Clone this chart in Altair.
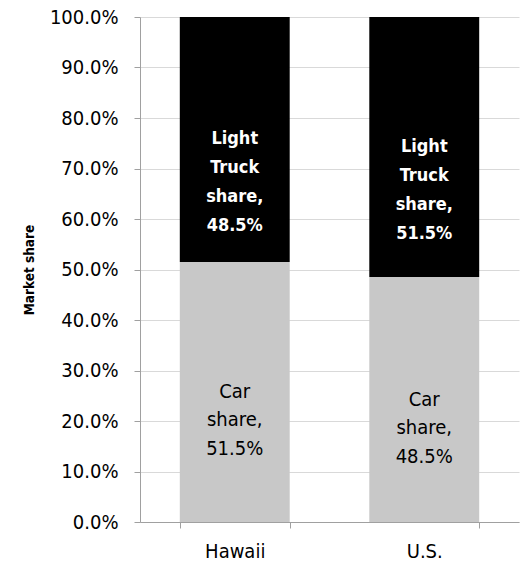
import altair as alt
import pandas as pd

regions = ["Hawaii", "U.S."]
car_share = [0.515, 0.485]
truck_share = [0.485, 0.515]
y_ticks = [i / 10 for i in range(11)]

rows = []
for r, c, t in zip(regions, car_share, truck_share):
    rows.append({"region": r, "kind": "Car", "share": c, "ord": 0,
                 "label": f"Car\nshare,\n{c*100:.1f}%"})
    rows.append({"region": r, "kind": "Light Truck", "share": t, "ord": 1,
                 "label": f"Light\nTruck\nshare,\n{t*100:.1f}%"})
df = pd.DataFrame(rows)

FONT = "DejaVu Sans Condensed, sans-serif"

base = alt.Chart(df).transform_stack(
    stack="share", groupby=["region"], as_=["y0", "y1"],
    sort=[alt.SortField("ord", order="ascending")]
).transform_calculate(mid="(datum.y0 + datum.y1) / 2")

xenc = alt.X("region:N", sort=regions,
             scale=alt.Scale(paddingInner=0.42, paddingOuter=0.21),
             axis=alt.Axis(title=None, tickBand="extent", labelAngle=0,
                           labelFontSize=20, labelFont=FONT, labelColor="#000",
                           tickSize=6, tickColor="#a0a0a0", domainColor="#a0a0a0",
                           labelPadding=13, grid=False))

bars = base.mark_bar().encode(
    x=xenc,
    y=alt.Y("y0:Q", scale=alt.Scale(domain=[0, 1]),
            axis=alt.Axis(title="Market share", format=".1%", values=y_ticks,
                          labelFontSize=20, labelFont=FONT, labelColor="#000",
                          titleFont=FONT, titleFontSize=13.5, titleFontWeight="bold",
                          titleColor="#000", titlePadding=13,
                          tickSize=6, tickColor="#a0a0a0", domainColor="#a0a0a0",
                          gridColor="#d9d9d9", labelPadding=16)),
    y2="y1:Q",
    color=alt.Color("kind:N", scale=alt.Scale(domain=["Car", "Light Truck"],
                                               range=["#c8c8c8", "#000000"]),
                    legend=None),
)

car_text = base.transform_filter(alt.datum.kind == "Car").mark_text(
    lineBreak="\n", fontSize=20, lineHeight=28.5, font=FONT, color="#000",
    baseline="middle"
).encode(x=alt.X("region:N", sort=regions), y="mid:Q", text="label:N")

truck_text = base.transform_filter(alt.datum.kind == "Light Truck").mark_text(
    lineBreak="\n", fontSize=18, lineHeight=29, font=FONT, color="#fff",
    fontWeight="bold", baseline="middle"
).encode(x=alt.X("region:N", sort=regions), y="mid:Q", text="label:N")

chart = alt.layer(bars, car_text, truck_text).properties(
    width=379, height=505,
    autosize=alt.AutoSizeParams(type="none"),
    padding={"left": 140, "top": 17, "right": 8, "bottom": 40},
).configure_view(stroke=None)

chart.save("out.html", embed_options={"renderer": "svg", "actions": False})
